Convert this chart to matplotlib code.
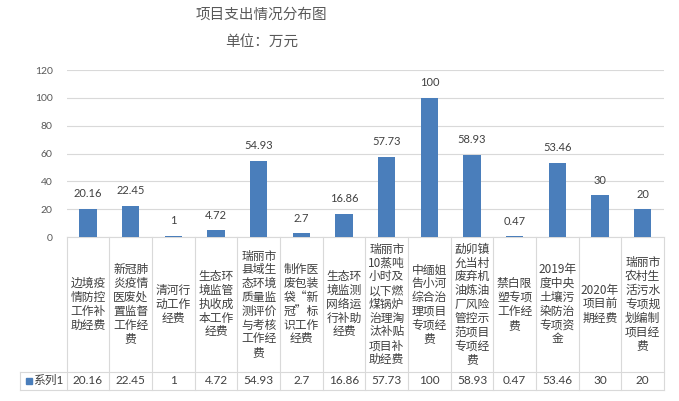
import matplotlib
matplotlib.use("Agg")
import matplotlib.pyplot as plt
from matplotlib.transforms import blended_transform_factory
from matplotlib.lines import Line2D

categories = [
    "边境疫\n情防控\n工作补\n助经费",
    "新冠肺\n炎疫情\n医废处\n置监督\n工作经\n费",
    "清河行\n动工作\n经费",
    "生态环\n境监管\n执收成\n本工作\n经费",
    "瑞丽市\n县域生\n态环境\n质量监\n测评价\n与考核\n工作经\n费",
    "制作医\n废包装\n袋“新\n冠”标\n识工作\n经费",
    "生态环\n境监测\n网络运\n行补助\n经费",
    "瑞丽市\n10蒸吨\n小时及\n以下燃\n煤锅炉\n治理淘\n汰补贴\n项目补\n助经费",
    "中缅姐\n告小河\n综合治\n理项目\n专项经\n费",
    "勐卯镇\n允当村\n废弃机\n油炼油\n厂风险\n管控示\n范项目\n专项经\n费",
    "禁白限\n塑专项\n工作经\n费",
    "2019年\n度中央\n土壤污\n染防治\n专项资\n金",
    "2020年\n项目前\n期经费",
    "瑞丽市\n农村生\n活污水\n专项规\n划编制\n项目经\n费",
]
values = [20.16, 22.45, 1, 4.72, 54.93, 2.7, 16.86, 57.73, 100, 58.93, 0.47, 53.46, 30, 20]
value_labels = ["20.16", "22.45", "1", "4.72", "54.93", "2.7", "16.86", "57.73", "100", "58.93", "0.47", "53.46", "30", "20"]
series_name = "系列1"
y_ticks = [0, 20, 40, 60, 80, 100, 120]
title = "项目支出情况分布图"
subtitle = "单位：万元"

plt.rcParams['font.family'] = ['Lato', 'Noto Sans CJK SC', 'DejaVu Sans']

BAR = '#4a7ebb'
GRID = '#d9d9d9'
TXT = '#404040'

W, H = 679, 401
fig = plt.figure(figsize=(W / 100, H / 100), dpi=100)
left_px, right_px, top_px, bot_px = 66.7, 664, 70, 237
ax = fig.add_axes([left_px / W, 1 - bot_px / H, (right_px - left_px) / W, (bot_px - top_px) / H])

n = len(values)
xs = list(range(n))
ax.bar(xs, values, width=0.4, color=BAR, zorder=3)
ax.set_xlim(-0.5, n - 0.5)
ax.set_ylim(0, 120)
ax.set_yticks(y_ticks)
ax.yaxis.grid(True, color=GRID, lw=0.8)
ax.set_axisbelow(True)
for s in ax.spines.values():
    s.set_visible(False)
ax.tick_params(axis='y', length=0, pad=10, labelsize=7.5, labelcolor='#595959')
ax.tick_params(axis='x', length=0, labelbottom=False)

for xi, v, lab in zip(xs, values, value_labels):
    ax.annotate(lab, (xi, v), xytext=(0, 10.8), textcoords='offset points',
                ha='center', va='center', fontsize=8, color=TXT)

# data table
ax_h_px = bot_px - top_px
ax_w_px = right_px - left_px
row1_bot = (bot_px - 371.7) / ax_h_px
row2_bot = (bot_px - 389.5) / ax_h_px
legend_left = (20 - left_px) / ax_w_px
bt = blended_transform_factory(ax.transData, ax.transAxes)

def hline(y, x0, x1):
    ax.add_line(Line2D([x0, x1], [y, y], transform=ax.transAxes, color=GRID, lw=0.8, clip_on=False))

hline(0, 0, 1)
hline(row1_bot, legend_left, 1)
hline(row2_bot, legend_left, 1)
for k in range(n + 1):
    ax.add_line(Line2D([k - 0.5, k - 0.5], [0, row2_bot], transform=bt, color=GRID, lw=0.8, clip_on=False))
ax.add_line(Line2D([legend_left, legend_left], [row1_bot, row2_bot], transform=ax.transAxes,
                   color=GRID, lw=0.8, clip_on=False))

for xi, cat, lab in zip(xs, categories, value_labels):
    ax.text(xi, row1_bot / 2, cat, transform=bt, ha='center', va='center', multialignment='center',
            fontsize=8.5, color=TXT, linespacing=1.08, family=['Noto Sans CJK SC', 'DejaVu Sans'])
    ax.text(xi, (row1_bot + row2_bot) / 2, lab, transform=bt, ha='center', va='center',
            fontsize=8.5, color=TXT)

ymid = (row1_bot + row2_bot) / 2
ax.add_line(Line2D([(28.5 - left_px) / ax_w_px], [ymid], transform=ax.transAxes, marker='s',
                   markersize=5, color=BAR, linestyle='none', clip_on=False))
ax.text((33.5 - left_px) / ax_w_px, ymid, series_name, transform=ax.transAxes,
        ha='left', va='center', fontsize=8.5, color=TXT)

fig.text(261 / W, 1 - 15 / H, title, ha='center', va='center', fontsize=10.5, color='#595959',
         family=['Noto Sans CJK SC'], fontweight='light')
fig.text(262 / W, 1 - 42 / H, subtitle, ha='center', va='center', fontsize=10.5, color='#595959',
         family=['Noto Sans CJK SC'], fontweight='light')

fig.savefig('out.png', dpi=100)
